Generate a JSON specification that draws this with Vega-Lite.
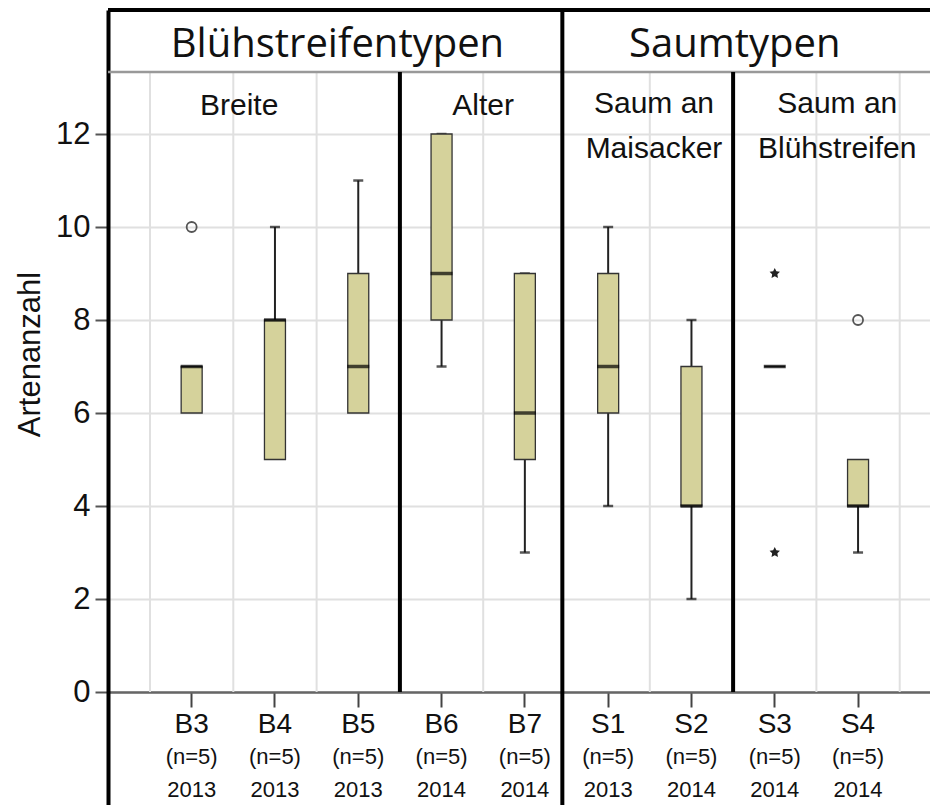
{
  "$schema": "https://vega.github.io/schema/vega-lite/v6.json",
  "autosize": {"type": "none"},
  "padding": {"left": 108, "top": 10, "right": 0, "bottom": 0},
  "width": 822,
  "height": 795,
  "background": "white",
  "config": {"view": {"stroke": null}, "font": "Liberation Sans"},
  "datasets": {
    "cats": [
      {"cat": "B3", "n": "(n=5)", "year": "2013"},
      {"cat": "B4", "n": "(n=5)", "year": "2013"},
      {"cat": "B5", "n": "(n=5)", "year": "2013"},
      {"cat": "B6", "n": "(n=5)", "year": "2014"},
      {"cat": "B7", "n": "(n=5)", "year": "2014"},
      {"cat": "S1", "n": "(n=5)", "year": "2013"},
      {"cat": "S2", "n": "(n=5)", "year": "2014"},
      {"cat": "S3", "n": "(n=5)", "year": "2014"},
      {"cat": "S4", "n": "(n=5)", "year": "2014"}
    ],
    "boxes": [
      {"cat": "B3", "q1": 6, "median": 7, "q3": 7},
      {"cat": "B4", "q1": 5, "median": 8, "q3": 8},
      {"cat": "B5", "q1": 6, "median": 7, "q3": 9},
      {"cat": "B6", "q1": 8, "median": 9, "q3": 12},
      {"cat": "B7", "q1": 5, "median": 6, "q3": 9},
      {"cat": "S1", "q1": 6, "median": 7, "q3": 9},
      {"cat": "S2", "q1": 4, "median": 4, "q3": 7},
      {"cat": "S3", "q1": 7, "median": 7, "q3": 7},
      {"cat": "S4", "q1": 4, "median": 4, "q3": 5}
    ],
    "whiskers": [
      {"cat": "B4", "hinge": 8, "end": 10},
      {"cat": "B5", "hinge": 9, "end": 11},
      {"cat": "B6", "hinge": 8, "end": 7},
      {"cat": "B6", "hinge": 12, "end": 12},
      {"cat": "B7", "hinge": 5, "end": 3},
      {"cat": "B7", "hinge": 9, "end": 9},
      {"cat": "S1", "hinge": 6, "end": 4},
      {"cat": "S1", "hinge": 9, "end": 10},
      {"cat": "S2", "hinge": 4, "end": 2},
      {"cat": "S2", "hinge": 7, "end": 8},
      {"cat": "S4", "hinge": 4, "end": 3}
    ],
    "outliers": [
      {"cat": "B3", "value": 10, "type": "Ausreißer"},
      {"cat": "S3", "value": 9, "type": "Extremwert"},
      {"cat": "S3", "value": 3, "type": "Extremwert"},
      {"cat": "S4", "value": 8, "type": "Ausreißer"}
    ]
  },
  "encoding": {
    "x": {
      "field": "cat",
      "type": "nominal",
      "sort": null,
      "scale": {"type": "band", "domain": ["B3","B4","B5","B6","B7","S1","S2","S3","S4"], "paddingInner": 0, "paddingOuter": 0.434, "align": 0.581},
      "axis": {
        "title": null,
        "orient": "bottom",
        "offset": -113,
        "labelAngle": 0,
        "labelFontSize": 28,
        "labelColor": "#111",
        "labelPadding": 3,
        "tickSize": 15,
        "tickWidth": 2,
        "tickColor": "#444",
        "domainColor": "#666",
        "domainWidth": 2.5,
        "grid": false
      }
    },
    "y": {
      "type": "quantitative",
      "scale": {"domain": [-2.43, 14.667], "nice": false, "zero": false},
      "axis": {
        "title": "Artenanzahl",
        "values": [0, 2, 4, 6, 8, 10, 12],
        "labelFontSize": 31,
        "labelColor": "#111",
        "labelPadding": 5,
        "tickSize": 13,
        "tickWidth": 2,
        "tickColor": "#555",
        "domainColor": "#000",
        "domainWidth": 4,
        "grid": true,
        "gridColor": "#e0e0e0",
        "gridWidth": 2,
        "titleFontSize": 31,
        "titleFontWeight": "normal",
        "titleColor": "#111",
        "titlePadding": 9,
        "titleY": 344
      }
    }
  },
  "layer": [
    {
      "data": {"name": "cats"},
      "transform": [{"filter": "datum.cat != 'S1'"}],
      "mark": {"type": "rule", "color": "#e0e0e0", "strokeWidth": 2},
      "encoding": {
        "x": {"field": "cat", "type": "nominal", "bandPosition": 0},
        "y": {"datum": 0},
        "y2": {"datum": 13.333}
      }
    },
    {
      "data": {"name": "cats"},
      "transform": [{"filter": "datum.cat == 'S4'"}],
      "mark": {"type": "rule", "color": "#e0e0e0", "strokeWidth": 2},
      "encoding": {
        "x": {"field": "cat", "type": "nominal", "bandPosition": 1},
        "y": {"datum": 0},
        "y2": {"datum": 13.333}
      }
    },
    {
      "data": {"values": [{}]},
      "mark": {"type": "rule", "color": "#999", "strokeWidth": 2.5},
      "encoding": {"y": {"datum": 13.333}, "x": null}
    },
    {
      "data": {"values": [{}]},
      "mark": {"type": "rule", "color": "#000", "strokeWidth": 4},
      "encoding": {"y": {"datum": 14.667}, "x": null}
    },
    {
      "data": {"values": [{}]},
      "mark": {"type": "rule", "color": "#000", "strokeWidth": 4},
      "encoding": {"x": {"datum": "B6", "bandPosition": 0}, "y": {"datum": 0}, "y2": {"datum": 13.333}}
    },
    {
      "data": {"values": [{}]},
      "mark": {"type": "rule", "color": "#000", "strokeWidth": 4},
      "encoding": {"x": {"datum": "S3", "bandPosition": 0}, "y": {"datum": 0}, "y2": {"datum": 13.333}}
    },
    {
      "data": {"values": [{}]},
      "mark": {"type": "rule", "color": "#000", "strokeWidth": 4},
      "encoding": {"x": {"datum": "B7", "bandPosition": 0.95}, "y": {"datum": -2.43}, "y2": {"datum": 14.667}}
    },
    {
      "data": {"name": "whiskers"},
      "mark": {"type": "rule", "color": "#222", "strokeWidth": 2},
      "encoding": {
        "x": {"field": "cat", "type": "nominal"},
        "y": {"field": "hinge", "type": "quantitative"},
        "y2": {"field": "end"}
      }
    },
    {
      "data": {"name": "whiskers"},
      "mark": {"type": "tick", "color": "#111", "size": 10, "thickness": 2.5},
      "encoding": {
        "x": {"field": "cat", "type": "nominal"},
        "y": {"field": "end", "type": "quantitative"}
      }
    },
    {
      "data": {"name": "boxes"},
      "mark": {"type": "bar", "width": 21, "fill": "#d5d29b", "stroke": "#333", "strokeWidth": 1.3},
      "encoding": {
        "x": {"field": "cat", "type": "nominal"},
        "y": {"field": "q1", "type": "quantitative"},
        "y2": {"field": "q3"}
      }
    },
    {
      "data": {"name": "boxes"},
      "mark": {"type": "tick", "color": "#000", "size": 22, "thickness": 3.5},
      "encoding": {
        "x": {"field": "cat", "type": "nominal"},
        "y": {"field": "median", "type": "quantitative"}
      }
    },
    {
      "data": {"name": "outliers"},
      "transform": [{"filter": "datum.type == 'Ausreißer'"}],
      "mark": {"type": "point", "shape": "circle", "filled": false, "stroke": "#555", "strokeWidth": 1.8, "size": 100, "opacity": 1},
      "encoding": {
        "x": {"field": "cat", "type": "nominal"},
        "y": {"field": "value", "type": "quantitative"}
      }
    },
    {
      "data": {"name": "outliers"},
      "transform": [{"filter": "datum.type == 'Extremwert'"}],
      "mark": {"type": "point", "shape": "M0,-1L0.294,-0.405L0.951,-0.309L0.476,0.155L0.588,0.809L0,0.5L-0.588,0.809L-0.476,0.155L-0.951,-0.309L-0.294,-0.405Z", "filled": true, "fill": "#222", "size": 120, "opacity": 1},
      "encoding": {
        "x": {"field": "cat", "type": "nominal"},
        "y": {"field": "value", "type": "quantitative"}
      }
    },
    {
      "data": {"name": "cats"},
      "mark": {"type": "text", "fontSize": 22, "color": "#111", "baseline": "alphabetic"},
      "encoding": {
        "x": {"field": "cat", "type": "nominal"},
        "y": {"datum": -1.548},
        "text": {"field": "n"}
      }
    },
    {
      "data": {"name": "cats"},
      "mark": {"type": "text", "fontSize": 22, "color": "#111", "baseline": "alphabetic"},
      "encoding": {
        "x": {"field": "cat", "type": "nominal"},
        "y": {"datum": -2.258},
        "text": {"field": "year"}
      }
    },
    {
      "data": {"values": [{}]},
      "mark": {"type": "text", "font": "Open Sans", "fontSize": 40, "color": "#111", "baseline": "alphabetic"},
      "encoding": {"x": {"datum": "B5", "bandPosition": 0.25}, "y": {"datum": 13.662}, "text": {"value": "Blühstreifentypen"}}
    },
    {
      "data": {"values": [{}]},
      "mark": {"type": "text", "font": "Open Sans", "fontSize": 40, "color": "#111", "baseline": "alphabetic"},
      "encoding": {"x": {"datum": "S3", "bandPosition": 0.02}, "y": {"datum": 13.662}, "text": {"value": "Saumtypen"}}
    },
    {
      "data": {"values": [{}]},
      "mark": {"type": "text", "fontSize": 30, "color": "#111", "baseline": "alphabetic"},
      "encoding": {"x": {"datum": "B4", "bandPosition": 0.07}, "y": {"datum": 12.41}, "text": {"value": "Breite"}}
    },
    {
      "data": {"values": [{}]},
      "mark": {"type": "text", "fontSize": 30, "color": "#111", "baseline": "alphabetic"},
      "encoding": {"x": {"datum": "B7", "bandPosition": 0}, "y": {"datum": 12.41}, "text": {"value": "Alter"}}
    },
    {
      "data": {"values": [{}]},
      "mark": {"type": "text", "fontSize": 30, "color": "#111", "baseline": "alphabetic", "lineHeight": 45},
      "encoding": {"x": {"datum": "S2", "bandPosition": 0.05}, "y": {"datum": 12.45}, "text": {"value": ["Saum an", "Maisacker"]}}
    },
    {
      "data": {"values": [{}]},
      "mark": {"type": "text", "fontSize": 30, "color": "#111", "baseline": "alphabetic", "lineHeight": 45},
      "encoding": {"x": {"datum": "S4", "bandPosition": 0.25}, "y": {"datum": 12.45}, "text": {"value": ["Saum an", "Blühstreifen"]}}
    }
  ]
}
